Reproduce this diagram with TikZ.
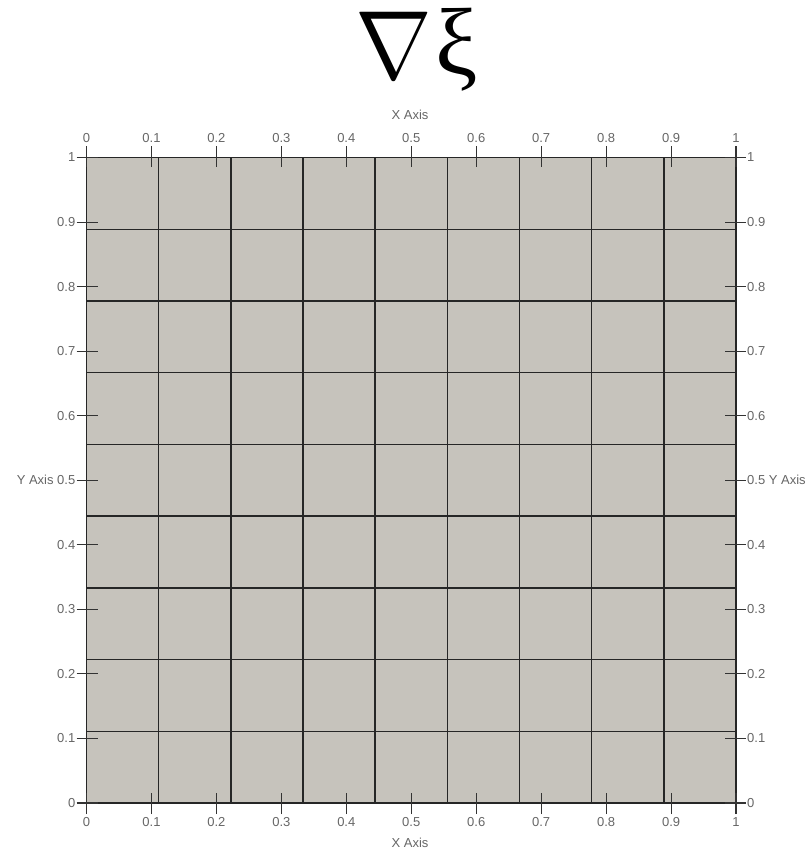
\documentclass[tikz,border=0pt]{standalone}
\usepackage{fontspec}
\newfontfamily\lab{Liberation Sans}
\newfontfamily\greekserif{Liberation Serif}
\begin{document}
\begin{tikzpicture}[x=1pt,y=-1pt,
  lbl/.style={font=\lab\fontsize{13}{13}\selectfont, text=black!60, inner sep=0pt},
  gridline/.style={draw=black!85, line width=1.4pt},
  tick/.style={draw=black!80, line width=1.1pt}]
\useasboundingbox (0,0) rectangle (810,853);
\def\xa{86.5}\def\xw{649.5}\def\ya{803}\def\yh{645.5}
% panel
\fill[fill={rgb,255:red,198;green,195;blue,188}] (\xa,\ya) rectangle ({\xa+\xw},{\ya-\yh});
% grid lines (9x9 cells)
\foreach \k in {0,...,9}{
  \draw[gridline] ({\xa+\xw*\k/9},\ya) -- ({\xa+\xw*\k/9},{\ya-\yh});
  \draw[gridline] (\xa,{\ya-\yh*\k/9}) -- ({\xa+\xw},{\ya-\yh*\k/9});
}
% ticks and labels
\foreach \t/\s in {0/0,1/0.1,2/0.2,3/0.3,4/0.4,5/0.5,6/0.6,7/0.7,8/0.8,9/0.9,10/1}{
  \coordinate (xb\t) at ({\xa+\xw*\t/10},\ya);
  \coordinate (xt\t) at ({\xa+\xw*\t/10},{\ya-\yh});
  \coordinate (yl\t) at (\xa,{\ya-\yh*\t/10});
  \coordinate (yr\t) at ({\xa+\xw},{\ya-\yh*\t/10});
  \draw[tick] ([yshift=-11pt]xb\t) -- ([yshift=10pt]xb\t);
  \draw[tick] ([yshift=11pt]xt\t) -- ([yshift=-10pt]xt\t);
  \draw[tick] ([xshift=-10pt]yl\t) -- ([xshift=11pt]yl\t);
  \draw[tick] ([xshift=-11pt]yr\t) -- ([xshift=10pt]yr\t);
  \node[lbl, anchor=center] (bl\t) at ([yshift=-19pt]xb\t) {\s};
  \node[lbl, anchor=center] (tl\t) at ([yshift=19pt]xt\t) {\s};
}
\foreach \t/\s in {0/0,1/0.1,2/0.2,3/0.3,4/0.4,6/0.6,7/0.7,8/0.8,9/0.9,10/1}{
  \node[lbl, anchor=east] (ll\t) at ([xshift=-11pt]yl\t) {\s};
  \node[lbl, anchor=west] (rl\t) at ([xshift=11pt]yr\t) {\s};
}
\node[lbl, anchor=east] (ll5) at ([xshift=-11pt]yl5) {Y Axis 0.5};
\node[lbl, anchor=west] (rl5) at ([xshift=11pt]yr5) {0.5 Y Axis};
\node[lbl] (xtop) at (410,115) {X Axis};
\node[lbl] (xbot) at (410,843) {X Axis};
% title
\node[inner sep=0pt, anchor=center] (nabla) at (394,45) {\scalebox{3.7}[3.9]{\Huge$\nabla$}};
\node[inner sep=0pt] (xi) at (457,50) {\greekserif\fontsize{95}{95}\selectfont ξ};
\end{tikzpicture}
\end{document}
